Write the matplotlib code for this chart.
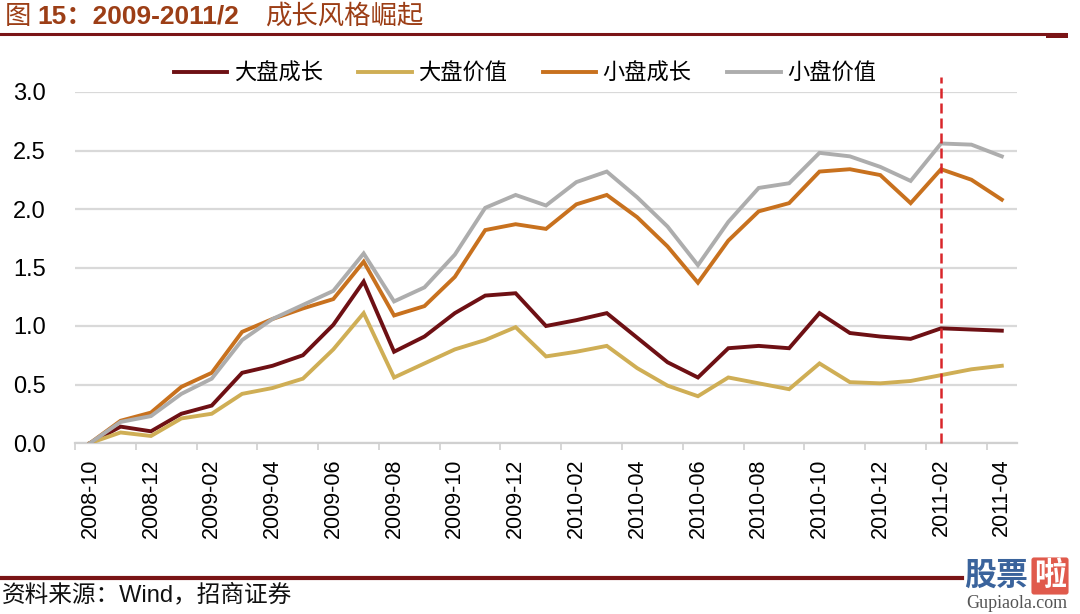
import matplotlib
matplotlib.use("Agg")
import matplotlib.pyplot as plt
from matplotlib.lines import Line2D

# 字体：英文数字用 Liberation Sans，中文回退到 Noto Sans CJK SC
plt.rcParams["font.family"] = ["Liberation Sans", "Noto Sans CJK SC"]
plt.rcParams["axes.unicode_minus"] = False

# ==========================
# 数据
# ==========================

months = [
    "2008-10", "2008-11", "2008-12",
    "2009-01", "2009-02", "2009-03", "2009-04", "2009-05", "2009-06",
    "2009-07", "2009-08", "2009-09", "2009-10", "2009-11", "2009-12",
    "2010-01", "2010-02", "2010-03", "2010-04", "2010-05", "2010-06",
    "2010-07", "2010-08", "2010-09", "2010-10", "2010-11", "2010-12",
    "2011-01", "2011-02", "2011-03", "2011-04",
]

large_growth = [0.00, 0.14, 0.10, 0.25, 0.32, 0.60, 0.66, 0.75, 1.01, 1.38, 0.78,
                0.91, 1.11, 1.26, 1.28, 1.00, 1.05, 1.11, 0.90, 0.69, 0.56,
                0.81, 0.83, 0.81, 1.11, 0.94, 0.91, 0.89, 0.98, 0.97, 0.96]

large_value = [0.00, 0.09, 0.06, 0.21, 0.25, 0.42, 0.47, 0.55, 0.80, 1.11, 0.56,
               0.68, 0.80, 0.88, 0.99, 0.74, 0.78, 0.83, 0.64, 0.49, 0.40,
               0.56, 0.51, 0.46, 0.68, 0.52, 0.51, 0.53, 0.58, 0.63, 0.66]

small_growth = [0.00, 0.19, 0.26, 0.48, 0.60, 0.95, 1.06, 1.15, 1.23, 1.55, 1.09,
                1.17, 1.42, 1.82, 1.87, 1.83, 2.04, 2.12, 1.93, 1.68, 1.37,
                1.73, 1.98, 2.05, 2.32, 2.34, 2.29, 2.05, 2.34, 2.25, 2.08]

small_value = [0.00, 0.18, 0.23, 0.42, 0.55, 0.88, 1.06, 1.18, 1.30, 1.62, 1.21,
               1.33, 1.61, 2.01, 2.12, 2.03, 2.23, 2.32, 2.10, 1.85, 1.52,
               1.89, 2.18, 2.22, 2.48, 2.45, 2.36, 2.24, 2.56, 2.55, 2.45]

series_names = ["大盘成长", "大盘价值", "小盘成长", "小盘价值"]
series_colors = ["#6E1014", "#CFAE55", "#C8711E", "#ADADAD"]

mark_month = "2011-02"

# ==========================
# 画图
# ==========================

W, H = 1080, 614
fig = plt.figure(figsize=(W / 100, H / 100), dpi=100)
ax = fig.add_axes([75 / W, 1 - 443 / H, (1017 - 75) / W, (443 - 92) / H])

x = list(range(len(months)))
for vals, name, c in zip([large_growth, large_value, small_growth, small_value],
                         series_names, series_colors):
    ax.plot(x, vals, color=c, lw=2.8, label=name, solid_joinstyle="miter", zorder=3)

# 2011-02 红色虚线
xm = months.index(mark_month)
ax.plot([xm, xm], [0, 3.13], color="#D9262A", lw=1.8, ls=(0, (4, 2)),
        clip_on=False, zorder=4)

ax.set_xlim(-0.5, len(months) - 0.5)
ax.set_ylim(0, 3.0)
ax.set_yticks([0, 0.5, 1.0, 1.5, 2.0, 2.5, 3.0])
ax.set_yticklabels([f"{v:.1f}" for v in [0, 0.5, 1.0, 1.5, 2.0, 2.5, 3.0]])
ax.yaxis.grid(True, color="#D9D9D9", lw=1.6)
ax.set_axisbelow(True)

ax.set_xticks(x[::2])
ax.set_xticklabels(months[::2], rotation=90)
ax.set_xticks([i - 0.5 for i in x[::2]], minor=True)
ax.tick_params(axis="x", which="major", length=0, pad=11, labelsize=15.5)
ax.tick_params(axis="x", which="minor", length=5, width=1.2, color="#D0D0D0")
ax.tick_params(axis="y", length=0, pad=21, labelsize=17)

for s in ["top", "right", "left"]:
    ax.spines[s].set_visible(False)
ax.spines["bottom"].set_color("#D0D0D0")
ax.spines["bottom"].set_linewidth(1.6)

ax.legend(loc="center", bbox_to_anchor=(525 / W, 1 - 73 / H),
          bbox_transform=fig.transFigure, ncol=4, frameon=False,
          handlelength=2.4, handletextpad=0.3, columnspacing=1.6,
          prop={"family": ["Noto Sans CJK SC"], "size": 16})

# ==========================
# 标题、横线、来源
# ==========================

title_color = "#9C3E16"
fig.text(5 / W, 1 - 16 / H, "图", color=title_color, fontsize=19,
         va="center", family=["Noto Sans CJK SC"])
fig.text(37 / W, 1 - 16 / H, "15：2009-2011/2", color=title_color, fontsize=19,
         fontweight="bold", va="center")
fig.text(265 / W, 1 - 16 / H, "成长风格崛起", color=title_color, fontsize=19,
         va="center", family=["Noto Sans CJK SC"])

fig.add_artist(Line2D([0, 1065 / W], [1 - 34 / H] * 2, color="#7A1416", lw=2.2))
fig.add_artist(Line2D([1048 / W, 1065 / W], [1 - 34.5 / H] * 2, color="#7A1416", lw=3.6))
fig.add_artist(Line2D([0, 962 / W], [1 - 578 / H] * 2, color="#7A1416", lw=3.0))

fig.text(2 / W, 1 - 595 / H, "资料来源：Wind，招商证券", fontsize=17, va="center",
         color="#111111")

# 右下角水印
fig.text(964 / W, 1 - 576 / H, "股票", fontsize=23, fontweight="bold",
         color="#3A639C", va="center", family=["Noto Sans CJK SC"])
fig.text(1034 / W, 1 - 576 / H, "啦", fontsize=23, fontweight="bold",
         color="white", va="center", family=["Noto Sans CJK SC"],
         bbox=dict(boxstyle="round,pad=0.08", fc="#E05A4C", ec="none"))
fig.text(966 / W, 1 - 604 / H, "Gupiaola.com", fontsize=13, color="#555555",
         va="center", family=["Liberation Serif"])

fig.savefig("out.png", dpi=100)
